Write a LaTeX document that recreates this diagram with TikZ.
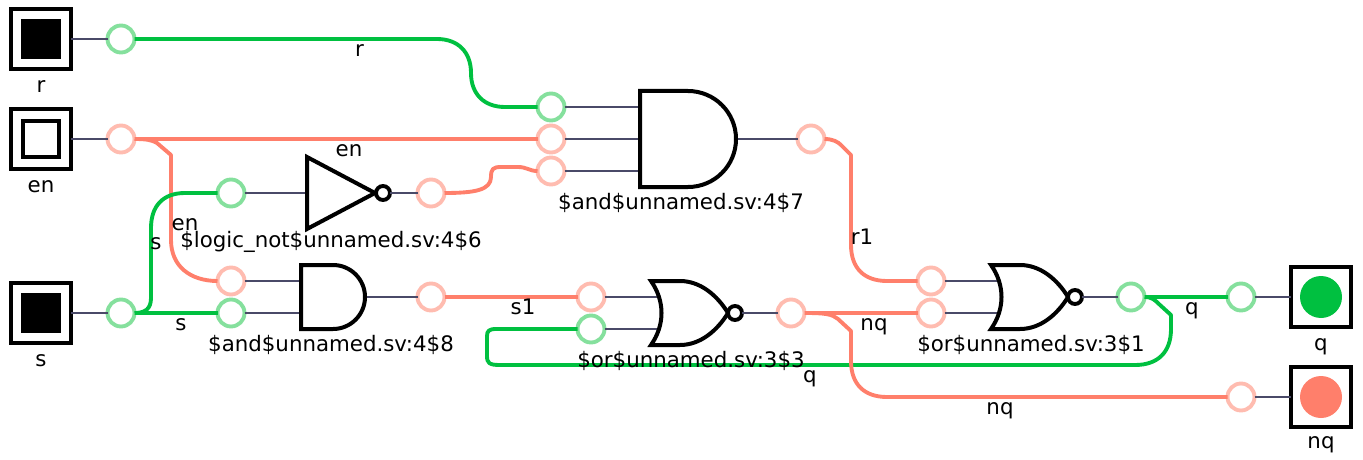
\documentclass[tikz,border=0pt]{standalone}
\usepackage{fontspec}
\setmainfont{DejaVu Sans}
\definecolor{hi}{HTML}{00C040}
\definecolor{lo}{HTML}{FF7F6B}
\definecolor{hil}{HTML}{85E09D}
\definecolor{lol}{HTML}{FFBCB0}
\definecolor{wirec}{HTML}{4A4A68}
\tikzset{
  x=0.75pt,y=-0.75pt,
  iobox/.style={draw=black,line width=3pt,fill=white,minimum size=45pt,inner sep=0pt,outer sep=0pt},
  porton/.style={circle,draw=hil,fill=white,line width=2.9pt,minimum size=20.25pt,inner sep=0pt,outer sep=0pt},
  portoff/.style={circle,draw=lol,fill=white,line width=2.9pt,minimum size=20.25pt,inner sep=0pt,outer sep=0pt},
  wirehi/.style={draw=hi,line width=2.9pt,line join=round},
  wirelo/.style={draw=lo,line width=2.9pt,line join=round},
  wirein/.style={draw=wirec,line width=1.6pt},
  gate/.style={draw=black,line width=3pt,fill=white,line join=miter},
  bubble/.style={circle,draw=black,fill=white,line width=2.9pt,minimum size=10.5pt,inner sep=0pt,outer sep=0pt},
  lab/.style={anchor=base,font=\fontsize{16pt}{18pt}\selectfont,inner sep=0pt,text=black}
}
\begin{document}
\begin{tikzpicture}
\useasboundingbox (0,0) rectangle (1363,460);
% input / output boxes
\node[iobox] (rbox) at (41,39) {};
\node[iobox] (enbox) at (41,139) {};
\node[iobox] (sbox) at (41,313) {};
\node[iobox] (qbox) at (1321,297) {};
\node[iobox] (nqbox) at (1321,397) {};
\fill[black] (21,19) rectangle (61,59);
\draw[black,line width=3pt,fill=white] (23,121) rectangle (59,157);
\fill[black] (21,293) rectangle (61,333);
\fill[hi] (1321,297) circle (21);
\fill[lo] (1321,397) circle (21);
% ports
\node[porton] (pr) at (121,39) {};
\node[portoff] (pen) at (121,139) {};
\node[porton] (ps) at (121,313) {};
\node[porton] (nota) at (231,193) {};
\node[portoff] (notz) at (431,193) {};
\node[portoff] (and2a) at (231,281) {};
\node[porton] (and2b) at (231,313) {};
\node[portoff] (and2z) at (431,297) {};
\node[porton] (and1a) at (551,107) {};
\node[portoff] (and1b) at (551,139) {};
\node[portoff] (and1c) at (551,171) {};
\node[portoff] (and1z) at (811,139) {};
\node[portoff] (nor1a) at (591,297) {};
\node[porton] (nor1b) at (591,329) {};
\node[portoff] (nor1z) at (791,313) {};
\node[portoff] (nor2a) at (931,281) {};
\node[portoff] (nor2b) at (931,313) {};
\node[porton] (nor2z) at (1131,297) {};
\node[porton] (pq) at (1241,297) {};
\node[portoff] (pnq) at (1241,397) {};
% gate pins
\coordinate (notin) at (307,193);
\coordinate (and1ina) at (640,107);
\coordinate (and1inb) at (640,139);
\coordinate (and1inc) at (640,171);
\coordinate (and1out) at (736,139);
\coordinate (and2ina) at (301,281);
\coordinate (and2inb) at (301,313);
\coordinate (and2out) at (365,297);
\coordinate (nor1ina) at (662,297);
\coordinate (nor1inb) at (662,329);
\coordinate (nor2ina) at (1002,281);
\coordinate (nor2inb) at (1002,313);
% thin wires
\draw[wirein] (rbox.east) -- (pr.west);
\draw[wirein] (enbox.east) -- (pen.west);
\draw[wirein] (sbox.east) -- (ps.west);
\draw[wirein] (nota.east) -- (notin);
\draw[wirein] (and2a.east) -- (and2ina);
\draw[wirein] (and2b.east) -- (and2inb);
\draw[wirein] (and2out) -- (and2z.west);
\draw[wirein] (and1a.east) -- (and1ina);
\draw[wirein] (and1b.east) -- (and1inb);
\draw[wirein] (and1c.east) -- (and1inc);
\draw[wirein] (and1out) -- (and1z.west);
\draw[wirein] (nor1a.east) -- (nor1ina);
\draw[wirein] (nor1b.east) -- (nor1inb);
\draw[wirein] (nor2a.east) -- (nor2ina);
\draw[wirein] (nor2b.east) -- (nor2inb);
\draw[wirein] (pq.east) -- (qbox.west);
\draw[wirein] (pnq.east) -- (nqbox.west);
% gates
\draw[gate] (307,157) -- (375,193) -- (307,229) -- cycle;
\node[bubble] (notb) at (383,193) {};
\draw[wirein] (notb.east) -- (notz.west);
\draw[gate] (640,91) -- (688,91) arc[start angle=-90,end angle=90,radius=48] -- (640,187) -- cycle;
\draw[gate] (301,265) -- (333,265) arc[start angle=-90,end angle=90,radius=32] -- (301,329) -- cycle;
\draw[gate] (651,281) -- (680,281) .. controls (700,281) and (717,295) .. (728,313) .. controls (717,331) and (700,345) .. (680,345) -- (651,345) .. controls (665,325) and (665,301) .. (651,281) -- cycle;
\node[bubble] (nor1o) at (735,313) {};
\draw[wirein] (nor1o.east) -- (nor1z.west);
\draw[gate] (991,265) -- (1020,265) .. controls (1040,265) and (1057,279) .. (1068,297) .. controls (1057,315) and (1040,329) .. (1020,329) -- (991,329) .. controls (1005,309) and (1005,285) .. (991,265) -- cycle;
\node[bubble] (nor2o) at (1075,297) {};
\draw[wirein] (nor2o.east) -- (nor2z.west);
% thick wires
\draw[wirehi] (pr.east) -- (437,39) .. controls (458,39) and (471,52) .. (471,73) .. controls (471,94) and (484,107) .. (505,107) -- (and1a.west);
\draw[wirelo] (pen.east) -- (and1b.west);
\draw[wirelo] (pen.east) .. controls (146,139) and (152,140) .. (157,143) -- (171,155) -- (171,240) .. controls (171,266) and (190,281) .. (and2a.west);
\draw[wirehi] (ps.east) .. controls (145,313) and (151,309) .. (151,298) -- (151,228) .. controls (151,206) and (163,193) .. (185,193) -- (nota.west);
\draw[wirehi] (ps.east) -- (and2b.west);
\draw[wirelo] (notz.east) .. controls (475,193) and (491,190) .. (491,177) .. controls (491,169) and (493,167) .. (501,167) -- (518,167) .. controls (527,167) and (529,171) .. (and1c.west);
\draw[wirelo] (and2z.east) -- (nor1a.west);
\draw[wirehi] (nor1b.west) -- (496,329) .. controls (489,329) and (487,331) .. (487,336) -- (487,356) .. controls (487,363) and (489,365) .. (500,365) -- (1135,365) .. controls (1158,365) and (1171,352) .. (1171,329) -- (1171,315) -- (1160,305) .. controls (1155,300) and (1152,297) .. (nor2z.east);
\draw[wirehi] (nor2z.east) -- (pq.west);
\draw[wirelo] (and1z.east) .. controls (833,139) and (838,142) .. (841,145) -- (851,155) -- (851,245) .. controls (851,268) and (864,281) .. (887,281) -- (nor2a.west);
\draw[wirelo] (nor1z.east) -- (nor2b.west);
\draw[wirelo] (nor1z.east) .. controls (825,313) and (832,314) .. (838,319) -- (851,331) -- (851,361) .. controls (851,384) and (864,397) .. (887,397) -- (pnq.west);
% labels
\node[lab] (lr) at (41,92.5) {r};
\node[lab] (len) at (41,192.5) {en};
\node[lab] (ls) at (41,366.5) {s};
\node[lab] (lq) at (1321,350.5) {q};
\node[lab] (lnq) at (1321,448.5) {nq};
\node[lab] (wr) at (359.5,56.5) {r};
\node[lab] (wen1) at (349,156.5) {en};
\node[lab] (wen2) at (185,230.5) {en};
\node[lab] (ws1) at (156,249.5) {s};
\node[lab] (ws2) at (181,330.5) {s};
\node[lab] (tnot) at (331,247.5) {\$logic\_not\$unnamed.sv:4\$6};
\node[lab] (tand2) at (331,351.5) {\$and\$unnamed.sv:4\$8};
\node[lab] (tand1) at (681,209.5) {\$and\$unnamed.sv:4\$7};
\node[lab] (wr1) at (862,244.5) {r1};
\node[lab] (ws3) at (523,314.5) {s1};
\node[lab] (wnq1) at (874,330.5) {nq};
\node[lab] (tnor1) at (691,367.5) {\$or\$unnamed.sv:3\$3};
\node[lab] (wq1) at (810,382.5) {q};
\node[lab] (tnor2) at (1031,351.5) {\$or\$unnamed.sv:3\$1};
\node[lab] (wq2) at (1192,314.5) {q};
\node[lab] (wnq2) at (1000,414.5) {nq};
\end{tikzpicture}
\end{document}
